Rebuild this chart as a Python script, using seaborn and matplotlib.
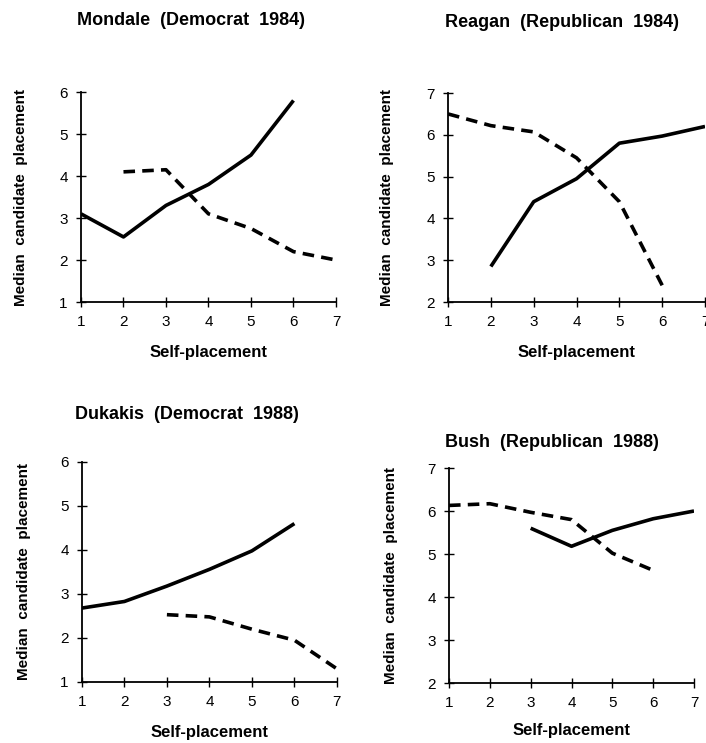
import numpy as np
import pandas as pd
import matplotlib
matplotlib.use("Agg")
import matplotlib.pyplot as plt
import seaborn as sns

# Self-placement scale (1 = liberal ... 7 = conservative)
self_placement = [1, 2, 3, 4, 5, 6, 7]

# Median candidate placement by respondent self-placement
mondale_solid = [3.1, 2.55, 3.3, 3.8, 4.5, 5.8, np.nan]
mondale_dashed = [np.nan, 4.1, 4.15, 3.1, 2.75, 2.2, 2.0]

reagan_solid = [np.nan, 2.85, 4.4, 4.95, 5.8, 5.97, 6.2]
reagan_dashed = [6.5, 6.22, 6.07, 5.45, 4.4, 2.4, np.nan]

dukakis_solid = [2.68, 2.83, 3.18, 3.56, 3.98, 4.6, np.nan]
dukakis_dashed = [np.nan, np.nan, 2.53, 2.48, 2.2, 1.95, 1.3]

bush_solid = [np.nan, np.nan, 5.6, 5.18, 5.55, 5.82, 6.0]
bush_dashed = [6.13, 6.17, 5.97, 5.8, 5.02, 4.62, np.nan]

titles = ["Mondale  (Democrat  1984)", "Reagan  (Republican  1984)",
          "Dukakis  (Democrat  1988)", "Bush  (Republican  1988)"]
y_ranges = [(1, 6), (2, 7), (1, 6), (2, 7)]

sns.set_style("ticks")
plt.rcParams["font.family"] = ["Liberation Sans", "DejaVu Sans"]
plt.rcParams.update({
    "text.color": "black",
    "axes.labelcolor": "black",
    "xtick.color": "black",
    "ytick.color": "black",
})

fig = plt.figure(figsize=(7.06, 7.43), dpi=100)

# axes rectangles in figure fractions
rects = [
    (0.1147, 0.5935, 0.3612, 0.2826),
    (0.6346, 0.5935, 0.3640, 0.2813),
    (0.1160, 0.0821, 0.3612, 0.2961),
    (0.6360, 0.0807, 0.3470, 0.2894),
]
title_pos = [(0.109, 0.973), (0.630, 0.970), (0.106, 0.4415), (0.630, 0.404)]
ylab_x = [-0.208, -0.210, -0.200, -0.208]
xlab_y = [-0.205, -0.205, -0.195, -0.186]

series = [
    (mondale_solid, mondale_dashed),
    (reagan_solid, reagan_dashed),
    (dukakis_solid, dukakis_dashed),
    (bush_solid, bush_dashed),
]

for i, (rect, (solid, dashed)) in enumerate(zip(rects, series)):
    ax = fig.add_axes(rect)
    df = pd.DataFrame({"x": self_placement, "solid": solid, "dashed": dashed})
    sns.lineplot(data=df, x="x", y="solid", ax=ax, color="black",
                 linewidth=2.6, solid_capstyle="butt")
    sns.lineplot(data=df, x="x", y="dashed", ax=ax, color="black",
                 linewidth=2.6, dashes=False)
    ax.lines[-1].set_dashes([3.2, 2.0])
    ax.lines[-1].set_dash_capstyle("butt")

    lo, hi = y_ranges[i]
    ax.set_xlim(1, 7)
    ax.set_ylim(lo, hi)
    ax.set_xticks(self_placement)
    ax.set_yticks(range(lo, hi + 1))
    ax.tick_params(direction="inout", length=7, width=1.0, labelsize=11,
                   pad=6, colors="black")
    for side in ("top", "right"):
        ax.spines[side].set_visible(False)
    for side in ("left", "bottom"):
        ax.spines[side].set_linewidth(1.3)
        ax.spines[side].set_color("black")
    ax.set_facecolor("white")

    ax.set_ylabel("Median  candidate  placement", fontsize=11,
                  fontweight="bold")
    ax.yaxis.set_label_coords(ylab_x[i], 0.5)
    ax.set_xlabel("Self-placement", fontsize=12, fontweight="bold")
    ax.xaxis.set_label_coords(0.5, xlab_y[i])

    tx, ty = title_pos[i]
    fig.text(tx, ty, titles[i], fontsize=13, fontweight="bold",
             ha="left", va="center")

fig.savefig("out.png", dpi=100, facecolor="white")
